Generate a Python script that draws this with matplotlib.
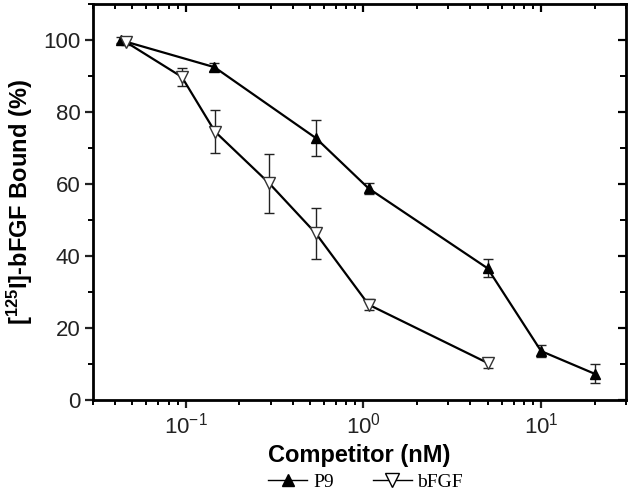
import numpy as np
import matplotlib.pyplot as plt
from matplotlib.lines import Line2D
from matplotlib.ticker import MultipleLocator, LogLocator, NullFormatter

plt.rcParams['font.family'] = ['Liberation Sans', 'DejaVu Sans']
plt.rcParams['mathtext.fontset'] = 'custom'
plt.rcParams['mathtext.rm'] = 'Liberation Sans'
plt.rcParams['mathtext.bf'] = 'Liberation Sans:bold'

# P9 competitor
p9_x = [0.043, 0.145, 0.54, 1.07, 5.0, 10.0, 20.0]
p9_y = [100.0, 92.5, 72.8, 58.8, 36.6, 13.6, 7.3]
p9_err = [0.8, 1.2, 5.0, 1.5, 2.5, 1.6, 2.7]

# bFGF competitor
bf_x = [0.046, 0.095, 0.146, 0.294, 0.54, 1.07, 5.0]
bf_y = [99.5, 89.8, 74.6, 60.3, 46.3, 26.5, 10.3]
bf_err = [0.8, 2.5, 6.0, 8.2, 7.2, 1.5, 1.4]

fig = plt.figure(figsize=(6.36, 5.01), dpi=100)
ax = fig.add_axes([0.146, 0.2016, 0.838, 0.790])

ax.errorbar(p9_x, p9_y, yerr=p9_err, color='black', lw=1.6, marker='^',
            ms=7, mfc='black', mec='black', ecolor='#222222', elinewidth=1.0,
            capsize=3.5, capthick=1.0)
ax.errorbar(bf_x, bf_y, yerr=bf_err, color='black', lw=1.6, marker='v',
            ms=9, mfc='white', mec='#333333', mew=1.0, ecolor='#222222',
            elinewidth=1.0, capsize=3.5, capthick=1.0)

ax.set_xscale('log')
ax.set_xlim(0.03, 30)
ax.set_ylim(0, 110)
ax.yaxis.set_major_locator(MultipleLocator(20))
ax.yaxis.set_minor_locator(MultipleLocator(10))
ax.xaxis.set_minor_locator(LogLocator(base=10, subs=np.arange(2, 10)))
ax.xaxis.set_minor_formatter(NullFormatter())

for s in ax.spines.values():
    s.set_linewidth(2.0)
ax.tick_params(which='major', direction='out', length=6, width=1.6,
               labelsize=16, pad=3, colors='#222222')
ax.tick_params(which='minor', direction='out', length=3.5, width=1.4)

# top / right ticks point inward, no labels
top = ax.secondary_xaxis('top')
top.set_xscale('log')
top.xaxis.set_minor_locator(LogLocator(base=10, subs=np.arange(2, 10)))
top.tick_params(which='major', direction='in', length=6, width=1.6,
                labeltop=False)
top.tick_params(which='minor', direction='in', length=3.5, width=1.4)
top.xaxis.set_major_formatter(NullFormatter())
top.xaxis.set_minor_formatter(NullFormatter())

right = ax.secondary_yaxis('right')
right.yaxis.set_major_locator(MultipleLocator(20))
right.yaxis.set_minor_locator(MultipleLocator(10))
right.tick_params(which='major', direction='in', length=6, width=1.6,
                  labelright=False)
right.tick_params(which='minor', direction='in', length=4, width=1.4)
right.yaxis.set_major_formatter(NullFormatter())

ax.set_xlabel('Competitor (nM)', fontsize=17, fontweight='bold', labelpad=4)
ax.set_ylabel(r'[$\mathbf{^{125}}$I]-bFGF Bound (%)', fontsize=17,
              fontweight='bold', labelpad=6)

handles = [
    Line2D([], [], color='black', lw=1.0, marker='^', ms=9, mfc='black'),
    Line2D([], [], color='black', lw=1.0, marker='v', ms=10, mfc='white',
           mew=1.0),
]
fig.legend(handles, ['P9', 'bFGF'], loc='center',
           bbox_to_anchor=(0.575, 0.038), ncol=2, frameon=False,
           handlelength=2.0, handletextpad=0.3, columnspacing=2.0,
           prop={'family': 'Liberation Serif', 'size': 14})

fig.savefig('out.png', dpi=100)
